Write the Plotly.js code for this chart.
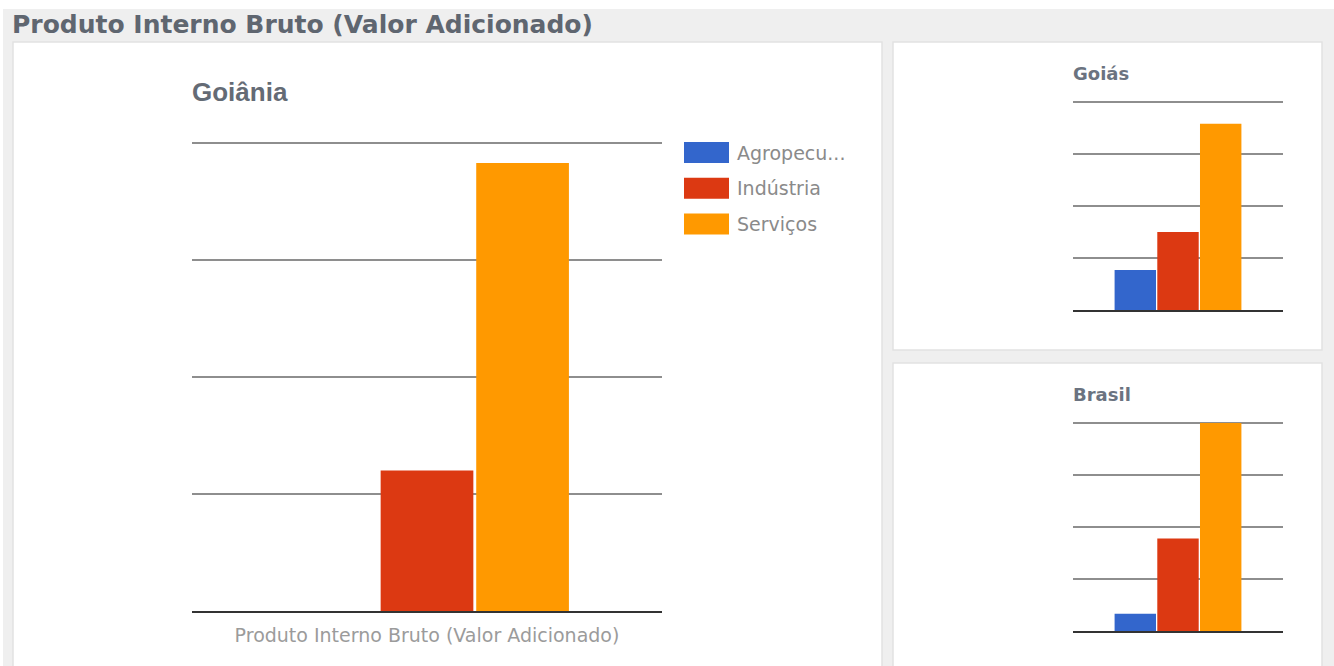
<!DOCTYPE html>
<html>
<head>
<meta charset="utf-8">
<script src="https://cdn.plot.ly/plotly-3.0.1.min.js"></script>
<style>
  html, body { margin: 0; padding: 0; background: #ffffff; }
  #chart { width: 1334px; height: 666px; }
</style>
</head>
<body>
<div id="chart"></div>
<script>
// ---- data (in gridline steps) ----
const seriesNames = ["Agropecuária", "Indústria", "Serviços"];
const seriesColors = ["#3366cc", "#dc3912", "#ff9900"];
const category = ["Produto Interno Bruto (Valor Adicionado)"];
const goianiaValues = [0, 1.20, 3.83];
const goiasValues = [0.77, 1.50, 3.58];
const brasilValues = [0.33, 1.78, 4.00];
const panelTitles = ["Goiânia", "Goiás", "Brasil"];
const pageTitle = "Produto Interno Bruto (Valor Adicionado)";

// ---- helpers: pixel -> paper ----
const W = 1334, H = 666;
const px = v => v / W;
const py = v => 1 - v / H;

const ARIAL = "Arial, 'Liberation Sans', sans-serif";
const DEJAVU = "'DejaVu Sans', Verdana, sans-serif";

const regions = [
  { values: goianiaValues, xa: "x", ya: "y" },
  { values: goiasValues, xa: "x2", ya: "y2" },
  { values: brasilValues, xa: "x3", ya: "y3" }
];

const traces = [];
regions.forEach(r => {
  seriesNames.forEach((name, i) => {
    traces.push({
      type: "bar",
      name: name,
      x: category,
      y: [r.values[i]],
      xaxis: r.xa,
      yaxis: r.ya,
      marker: { color: seriesColors[i], line: { width: 0 } },
      showlegend: false,
      hoverinfo: "name+y"
    });
  });
});

const TOP = 4.03; // small headroom so the top gridline is drawn
function yAxis(domain) {
  return {
    domain: domain,
    range: [0, TOP],
    tick0: 0,
    dtick: 1,
    showticklabels: false,
    ticks: "",
    showgrid: true,
    gridcolor: "#8e8e8e",
    gridwidth: 2,
    zeroline: false,
    showline: false,
    fixedrange: true
  };
}
function xAxis(domain, anchor, labels) {
  return {
    domain: domain,
    anchor: anchor,
    type: "category",
    range: [-0.5, 0.5],
    showgrid: false,
    zeroline: false,
    showline: true,
    linecolor: "#333333",
    linewidth: 2,
    ticks: "",
    showticklabels: labels,
    ticklabelstandoff: 6,
    tickfont: { family: DEJAVU, size: 19, color: "#9b9b9b" },
    fixedrange: true
  };
}
// domain top for a plot whose 4th gridline sits at pixel gTop and baseline at pixel base
function yDom(base, gTop) {
  const unit = (base - gTop) / 4;
  return [py(base), py(base - unit * TOP)];
}

// panels and background
const shapes = [
  { type: "rect", xref: "paper", yref: "paper", layer: "below",
    x0: px(3), x1: px(1334), y0: py(9), y1: py(666),
    fillcolor: "#efefef", line: { width: 0 } },
  { type: "rect", xref: "paper", yref: "paper", layer: "below",
    x0: px(13), x1: px(882), y0: py(42), y1: py(680),
    fillcolor: "#ffffff", line: { color: "#e2e2e2", width: 1.5 } },
  { type: "rect", xref: "paper", yref: "paper", layer: "below",
    x0: px(893), x1: px(1322), y0: py(42), y1: py(350),
    fillcolor: "#ffffff", line: { color: "#e2e2e2", width: 1.5 } },
  { type: "rect", xref: "paper", yref: "paper", layer: "below",
    x0: px(893), x1: px(1322), y0: py(363), y1: py(680),
    fillcolor: "#ffffff", line: { color: "#e2e2e2", width: 1.5 } }
];

const annotations = [
  { text: "<b>" + pageTitle + "</b>", xref: "paper", yref: "paper",
    x: px(10), y: py(25), xanchor: "left", yanchor: "middle", showarrow: false,
    font: { family: DEJAVU, size: 25, color: "#5f6670" } },
  { text: "<b>" + panelTitles[0] + "</b>", xref: "paper", yref: "paper",
    x: px(190), y: py(92), xanchor: "left", yanchor: "middle", showarrow: false,
    font: { family: ARIAL, size: 26, color: "#646b75" } },
  { text: "<b>" + panelTitles[1] + "</b>", xref: "paper", yref: "paper",
    x: px(1071), y: py(73), xanchor: "left", yanchor: "middle", showarrow: false,
    font: { family: DEJAVU, size: 18, color: "#6b7380" } },
  { text: "<b>" + panelTitles[2] + "</b>", xref: "paper", yref: "paper",
    x: px(1071), y: py(394), xanchor: "left", yanchor: "middle", showarrow: false,
    font: { family: DEJAVU, size: 18, color: "#6b7380" } }
];

// custom legend built from series arrays
const legendTop = 152.5, legendStep = 35.7;
seriesNames.forEach((name, i) => {
  const cy = legendTop + i * legendStep;
  shapes.push({ type: "rect", xref: "paper", yref: "paper",
    x0: px(684), x1: px(729), y0: py(cy - 10.5), y1: py(cy + 10.5),
    fillcolor: seriesColors[i], line: { width: 0 } });
  const label = name.length > 10 ? name.slice(0, 8) + "..." : name;
  annotations.push({ text: label, xref: "paper", yref: "paper",
    x: px(735), y: py(cy), xanchor: "left", yanchor: "middle", showarrow: false,
    font: { family: DEJAVU, size: 19, color: "#8a8a8a" } });
});

const layout = {
  width: W, height: H,
  margin: { l: 0, r: 0, t: 0, b: 0, pad: 0 },
  paper_bgcolor: "#ffffff",
  plot_bgcolor: "rgba(0,0,0,0)",
  barmode: "group",
  bargap: 0.39,
  bargroupgap: 0.03,
  showlegend: false,
  xaxis: xAxis([px(192), px(662)], "y", true),
  yaxis: yAxis(yDom(611, 143)),
  xaxis2: xAxis([px(1073), px(1283)], "y2", false),
  yaxis2: yAxis(yDom(310, 102)),
  xaxis3: xAxis([px(1073), px(1283)], "y3", false),
  yaxis3: yAxis(yDom(631, 423)),
  shapes: shapes,
  annotations: annotations,
  font: { family: ARIAL }
};

Plotly.newPlot("chart", traces, layout, { displayModeBar: false, staticPlot: true });
</script>
</body>
</html>
